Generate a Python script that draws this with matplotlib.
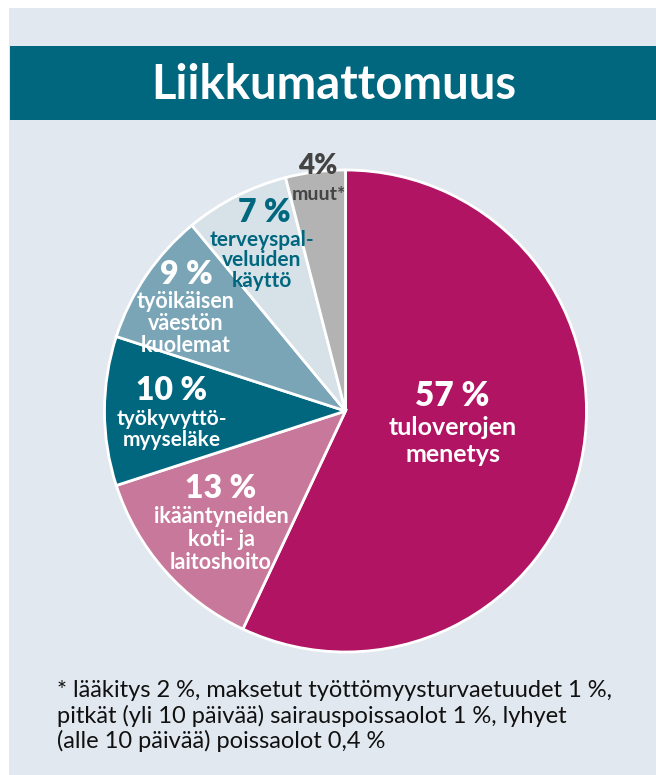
import matplotlib.pyplot as plt
from matplotlib.patches import Rectangle

# data
shares = [57, 13, 10, 9, 7, 4]
pct_labels = ["57 %", "13 %", "10 %", "9 %", "7 %", "4%"]
names = ["tuloverojen\nmenetys", "ikääntyneiden\nkoti- ja\nlaitoshoito",
         "työkyvyttö-\nmyyseläke", "työikäisen\nväestön\nkuolemat",
         "terveyspal-\nveluiden\nkäyttö", "muut*"]
colors = ["#b01463", "#c8789a", "#00677f", "#7aa5b7", "#d6e1e8", "#b3b3b3"]
text_colors = ["white", "white", "white", "white", "#00677f", "#444444"]
title = "Liikkumattomuus"
footnote = ("* lääkitys 2 %, maksetut työttömyysturvaetuudet 1 %,\n"
            "pitkät (yli 10 päivää) sairauspoissaolot 1 %, lyhyet\n"
            "(alle 10 päivää) poissaolot 0,4 %")

W, H = 656, 775
fig = plt.figure(figsize=(W / 100, H / 100), dpi=100)
fig.patch.set_facecolor("white")
plt.rcParams["font.family"] = ["Lato", "DejaVu Sans"]


def fx(x):
    return x / W


def fy(y):
    return 1 - y / H


# panel + title band
fig.patches.append(Rectangle((fx(9), 0), 1, fy(8), transform=fig.transFigure,
                             facecolor="#e1e8ef", edgecolor="none", zorder=-2))
fig.patches.append(Rectangle((fx(10), fy(120)), 1, (120 - 46) / H,
                             transform=fig.transFigure, facecolor="#00677f",
                             edgecolor="none", zorder=-1))
fig.text(fx(334), fy(85), title, color="white", fontsize=34, fontweight="bold",
         ha="center", va="center")

# pie
cx, cy, r = 345.5, 411, 241
ax = fig.add_axes([fx(cx - r), fy(cy + r), 2 * r / W, 2 * r / H])
ax.pie(shares, colors=colors, startangle=90, counterclock=False,
       wedgeprops=dict(edgecolor="white", linewidth=2))
ax.set_xlim(-1, 1)
ax.set_ylim(-1, 1)
ax.axis("off")

# label positions in pixels (pct line centre, name block top)
pct_pos = [(452, 396), (221, 489), (172, 391), (186, 275), (264, 212), (318, 166)]
name_pos = [(453, 416), (221, 506), (172, 409), (186, 291), (262, 230), (319, 186)]
pct_size = [24, 23, 23, 23, 23, 20]
name_size = [18, 15.5, 15, 15.5, 15, 14]
name_spacing = [1.22, 1.12, 1.08, 1.05, 1.03, 1.0]

for i in range(len(shares)):
    fig.text(fx(pct_pos[i][0]), fy(pct_pos[i][1]), pct_labels[i],
             color=text_colors[i], fontsize=pct_size[i], fontweight="heavy",
             ha="center", va="center")
    fig.text(fx(name_pos[i][0]), fy(name_pos[i][1]), names[i],
             color=text_colors[i], fontsize=name_size[i], fontweight="bold",
             ha="center", va="top", linespacing=name_spacing[i])

fig.text(fx(57), fy(680), footnote, fontsize=17, color="#111111",
         ha="left", va="top", linespacing=1.19)

fig.savefig("out.png", dpi=100)
